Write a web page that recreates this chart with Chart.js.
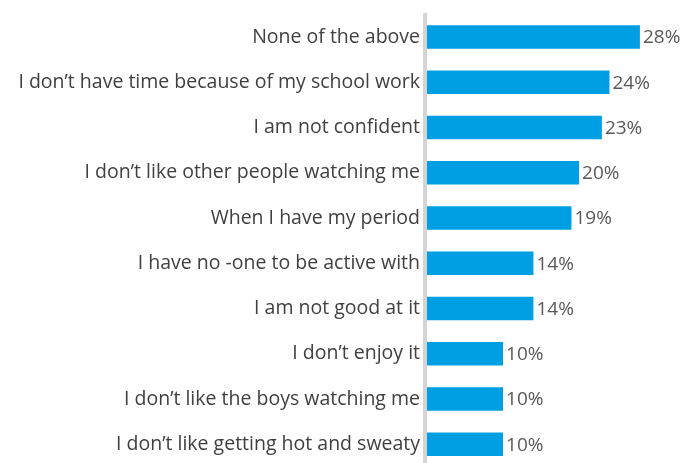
<!DOCTYPE html>
<html>
<head>
<meta charset="utf-8">
<script src="https://cdn.jsdelivr.net/npm/chart.js@4"></script>
<style>
  body { margin: 0; background: #fff; }
  #wrap { width: 684px; height: 463px; }
</style>
</head>
<body>
<div id="wrap"><canvas id="chart"></canvas></div>
<script>
const reasons = [
  'None of the above',
  'I don\u2019t have time because of my school work',
  'I am not confident',
  'I don\u2019t like other people watching me',
  'When I have my period',
  'I have no -one to be active with',
  'I am not good at it',
  'I don\u2019t enjoy it',
  'I don\u2019t like the boys watching me',
  'I don\u2019t like getting hot and sweaty'
];
const percents = [28, 24, 23, 20, 19, 14, 14, 10, 10, 10];

const fontFamily = '"Open Sans", sans-serif';

// grey axis line that runs past the chart area, like the original
const axisLine = {
  id: 'axisLine',
  afterDraw(chart) {
    const ctx = chart.ctx;
    const x = chart.chartArea.left - 2;
    ctx.save();
    ctx.strokeStyle = '#d4d4d4';
    ctx.lineWidth = 4;
    ctx.beginPath();
    ctx.moveTo(x, 13);
    ctx.lineTo(x, chart.height);
    ctx.stroke();
    ctx.restore();
  }
};

// percentage labels at the bar ends
const valueLabels = {
  id: 'valueLabels',
  afterDatasetsDraw(chart) {
    const ctx = chart.ctx;
    ctx.save();
    ctx.font = '19px ' + fontFamily;
    ctx.fillStyle = '#595959';
    ctx.textBaseline = 'middle';
    chart.getDatasetMeta(0).data.forEach((bar, i) => {
      ctx.fillText(percents[i] + '%', bar.x + 3, bar.y + 1);
    });
    ctx.restore();
  }
};

new Chart(document.getElementById('chart'), {
  type: 'bar',
  data: {
    labels: reasons,
    datasets: [{
      data: percents,
      backgroundColor: '#009fe3',
      barPercentage: 0.52,
      categoryPercentage: 1,
      clip: false
    }]
  },
  options: {
    indexAxis: 'y',
    responsive: true,
    maintainAspectRatio: false,
    animation: false,
    layout: { padding: { top: 37, bottom: 13, left: 0, right: 0 } },
    plugins: { legend: { display: false }, tooltip: { enabled: false } },
    scales: {
      x: { display: false, min: 0, max: 33.8 },
      y: {
        offset: false,
        border: { display: false },
        grid: { display: false, drawTicks: false },
        afterFit(scale) { scale.width = 427; },
        ticks: {
          color: '#404040',
          padding: 7,
          font: { family: fontFamily, size: 19.5 }
        }
      }
    }
  },
  plugins: [axisLine, valueLabels]
});
</script>
</body>
</html>
